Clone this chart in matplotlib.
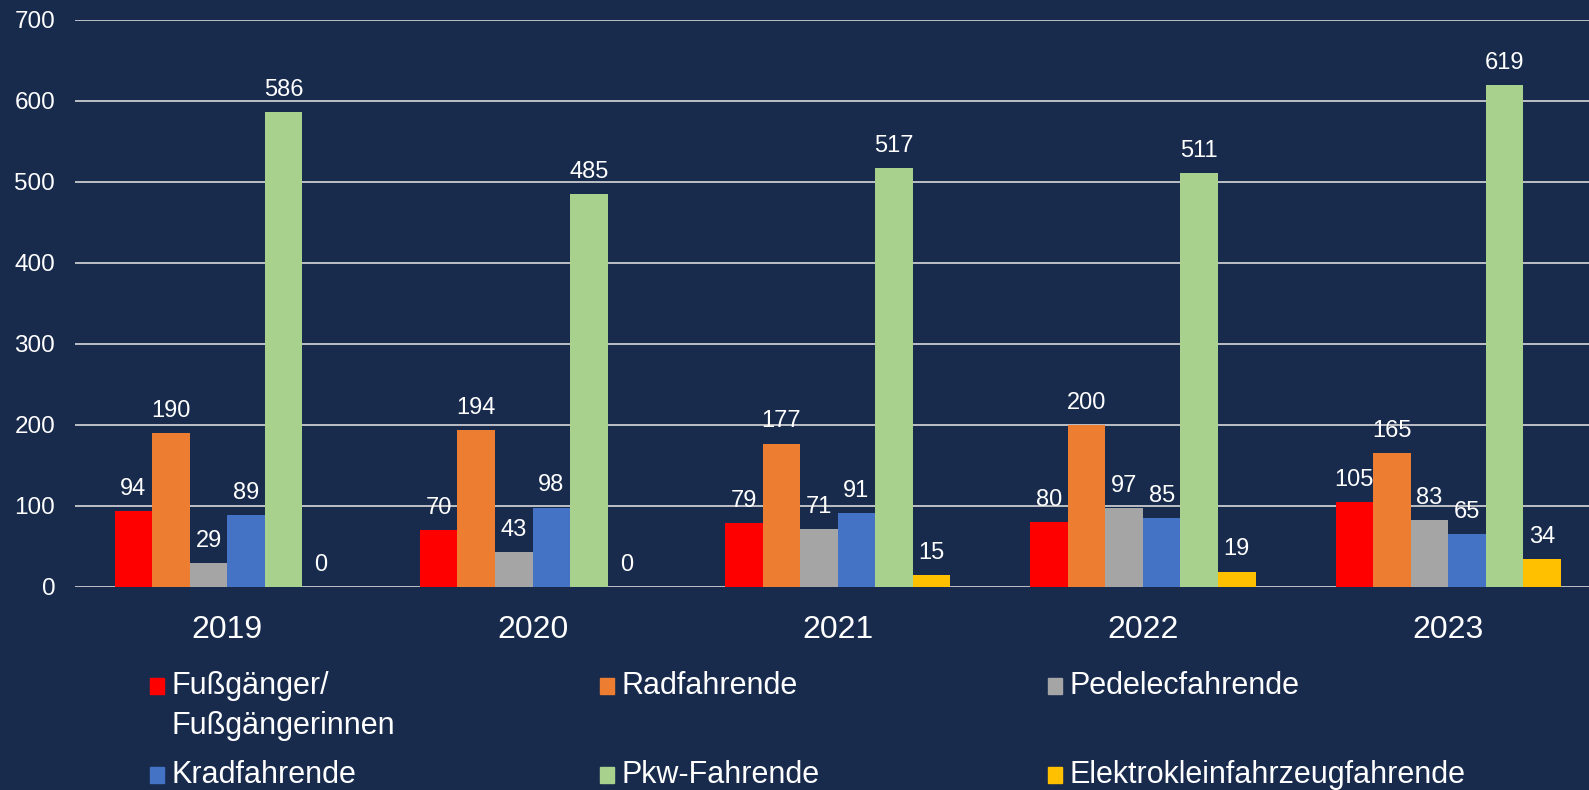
import matplotlib.pyplot as plt
from matplotlib.patches import Rectangle
import numpy as np

plt.rcParams['font.family'] = ['Liberation Sans', 'DejaVu Sans']

years = ['2019', '2020', '2021', '2022', '2023']
series = ['Fußgänger/\nFußgängerinnen', 'Radfahrende', 'Pedelecfahrende',
          'Kradfahrende', 'Pkw-Fahrende', 'Elektrokleinfahrzeugfahrende']
fuss = [94, 70, 79, 80, 105]
rad = [190, 194, 177, 200, 165]
pedelec = [29, 43, 71, 97, 83]
krad = [89, 98, 91, 85, 65]
pkw = [586, 485, 517, 511, 619]
ekf = [0, 0, 15, 19, 34]
values = [fuss, rad, pedelec, krad, pkw, ekf]
colors = ['#FF0000', '#ED7D31', '#A5A5A5', '#4472C4', '#A9D18E', '#FFC000']

bg = '#182B4D'
fig = plt.figure(figsize=(15.89, 7.9), dpi=100, facecolor=bg)
# plot area runs slightly past the right edge, as in the original
ax = fig.add_axes([0.047, 0.257, 0.9604, 0.718], facecolor=bg)

x = np.arange(len(years))
w = 0.123
for i, (vals, c) in enumerate(zip(values, colors)):
    bars = ax.bar(x + (i - 2.5) * w, vals, width=w, color=c, zorder=3)
    for b, v in zip(bars, vals):
        ax.annotate(str(v), (b.get_x() + b.get_width() / 2, v),
                    xytext=(0, 8), textcoords='offset points',
                    ha='center', va='bottom', color='white', fontsize=17)

ax.set_xlim(-0.5, 4.5)
ax.set_ylim(0, 700)
ax.set_yticks(range(0, 701, 100))
ax.grid(axis='y', color='#D9D9D9', linewidth=1.2, zorder=0)
for s in ax.spines.values():
    s.set_visible(False)
ax.tick_params(axis='y', length=0, colors='white', labelsize=17.5, pad=14)
ax.tick_params(axis='x', length=0, colors='white', labelsize=23, pad=20)
ax.set_xticks(x)
ax.set_xticklabels(years)

# legend, 3 columns x 2 rows
col_x = [150, 600, 1048]
row_y = [686, 775]
W, H = 1589, 790
for k in range(len(series)):
    r, cidx = divmod(k, 3)
    px, py = col_x[cidx], row_y[r]
    fig.add_artist(Rectangle((px / W, 1 - (py + 8) / H), 14 / W, 16 / H,
                             transform=fig.transFigure, color=colors[k]))
    for j, line in enumerate(series[k].split('\n')):
        fig.text((px + 22) / W, 1 - (py + 40 * j) / H, line,
                 color='white', fontsize=22, va='center', ha='left')

fig.savefig('out.png', dpi=100, facecolor=bg)
